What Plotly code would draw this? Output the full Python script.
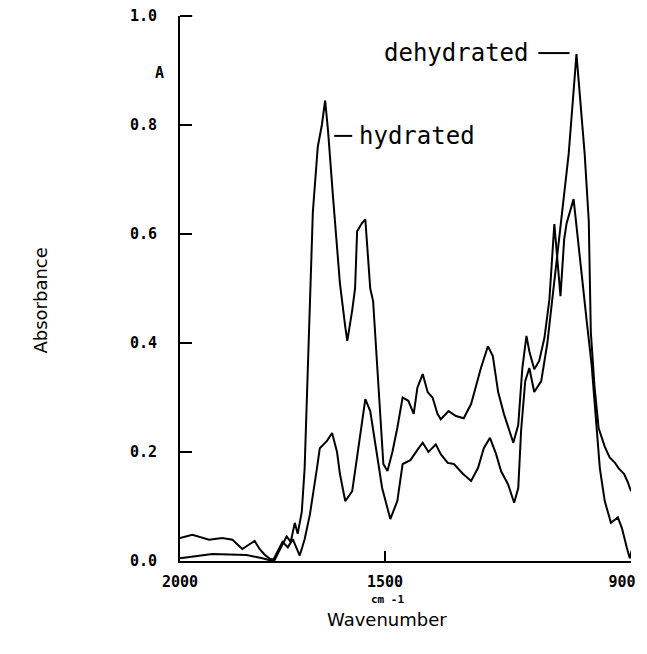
import plotly.graph_objects as go

# Hydrated spectrum (wavenumber cm-1, absorbance)
hyd_wn = [2000, 1970, 1929, 1897, 1872, 1848, 1836, 1818, 1806, 1794, 1781, 1769, 1757,
          1740, 1730, 1720, 1713, 1703, 1696, 1691, 1683, 1676, 1664, 1654, 1646, 1639,
          1627, 1610, 1597, 1592, 1580, 1573, 1568, 1556, 1548, 1536, 1529, 1519, 1504,
          1494, 1482, 1470, 1457, 1443, 1430, 1421, 1408, 1396, 1384, 1372, 1364, 1345,
          1327, 1308, 1290, 1266, 1249, 1237, 1224, 1210, 1187, 1175, 1165, 1155, 1148,
          1136, 1124, 1111, 1099, 1087, 1072, 1063, 1057, 1040, 1028, 1018, 1008, 996,
          986, 976, 964, 949, 932, 922, 910, 903, 898]
hyd_abs = [0.042, 0.048, 0.039, 0.042, 0.039, 0.022, 0.028, 0.037, 0.022, 0.012, 0.004, 0.002, 0.02,
           0.045, 0.035, 0.07, 0.05, 0.09, 0.17, 0.29, 0.45, 0.64, 0.76, 0.80, 0.845, 0.79,
           0.67, 0.51, 0.43, 0.404, 0.46, 0.50, 0.605, 0.62, 0.627, 0.50, 0.477, 0.354, 0.178,
           0.165, 0.20, 0.244, 0.30, 0.294, 0.27, 0.318, 0.343, 0.31, 0.30, 0.27, 0.26, 0.275,
           0.266, 0.262, 0.288, 0.354, 0.394, 0.376, 0.31, 0.27, 0.217, 0.25, 0.354, 0.413, 0.385,
           0.352, 0.367, 0.41, 0.48, 0.618, 0.486, 0.59, 0.62, 0.664, 0.58, 0.50, 0.44, 0.36,
           0.27, 0.17, 0.11, 0.07, 0.08, 0.06, 0.024, 0.005, 0.02]

# Dehydrated spectrum
deh_wn = [2000, 1953, 1921, 1880, 1838, 1799, 1774, 1750, 1737, 1725, 1708, 1696, 1683,
          1666, 1659, 1642, 1629, 1617, 1610, 1597, 1580, 1565, 1548, 1536, 1524, 1507,
          1487, 1470, 1457, 1438, 1418, 1408, 1394, 1376, 1364, 1347, 1332, 1310, 1290,
          1273, 1259, 1244, 1229, 1217, 1200, 1185, 1175, 1168, 1158, 1148, 1136, 1119,
          1104, 1089, 1070, 1052, 1033, 1013, 1003, 998, 989, 979, 964, 952, 939, 930,
          917, 908, 900]
deh_abs = [0.005, 0.009, 0.013, 0.012, 0.011, 0.005, 0.0, 0.035, 0.025, 0.04, 0.01, 0.04, 0.086,
           0.17, 0.207, 0.22, 0.235, 0.20, 0.16, 0.11, 0.128, 0.207, 0.297, 0.275, 0.22, 0.134,
           0.077, 0.11, 0.178, 0.185, 0.207, 0.217, 0.20, 0.214, 0.196, 0.18, 0.178, 0.16, 0.147,
           0.171, 0.207, 0.226, 0.196, 0.165, 0.141, 0.107, 0.134, 0.24, 0.33, 0.354, 0.31, 0.33,
           0.40, 0.50, 0.624, 0.747, 0.93, 0.747, 0.624, 0.42, 0.32, 0.244, 0.21, 0.19, 0.18, 0.17,
           0.16, 0.145, 0.128]

y_ticks = [0.0, 0.2, 0.4, 0.6, 0.8, 1.0]
y_tick_text = ["0.0", "0.2", "0.4", "0.6", "0.8", "1.0"]
x_ticks = [2000, 1500, 900]
x_tick_text = ["2000", "1500", "900\u00a0\u00a0"]

line_style = dict(color="black", width=2)
fig = go.Figure()
fig.add_trace(go.Scatter(x=hyd_wn, y=hyd_abs, mode="lines", line=line_style, name="hydrated"))
fig.add_trace(go.Scatter(x=deh_wn, y=deh_abs, mode="lines", line=line_style, name="dehydrated"))

tick_font = dict(family="DejaVu Sans Mono", size=15, color="black", weight="bold")
fig.update_layout(
    width=640, height=647,
    margin=dict(l=172, r=17, t=8, b=94),
    paper_bgcolor="white", plot_bgcolor="white",
    showlegend=False,
    xaxis=dict(range=[2000, 900], showgrid=False, zeroline=False, showline=True,
               automargin=False, ticklabeloverflow="allow",
               linecolor="black", linewidth=2, ticks="inside", ticklen=10, tickwidth=2,
               tickcolor="black", tickvals=x_ticks, ticktext=x_tick_text,
               tickfont=tick_font, ticklabelstandoff=6),
    yaxis=dict(range=[0, 1], showgrid=False, zeroline=False, showline=True,
               automargin=False, ticklabeloverflow="allow",
               linecolor="black", linewidth=2, ticks="inside", ticklen=12, tickwidth=2,
               tickcolor="black", tickvals=y_ticks, ticktext=y_tick_text,
               tickfont=tick_font, ticklabelstandoff=18),
)

ann_font = dict(family="DejaVu Sans Mono", size=24, color="black")
fig.add_annotation(x=1143, y=0.932, xref="x", yref="y", text="dehydrated", showarrow=False,
                   xanchor="right", yanchor="middle", font=ann_font)
fig.add_annotation(x=1568, y=0.78, xref="x", yref="y", text="hydrated", showarrow=False,
                   xanchor="left", yanchor="middle", font=ann_font)
fig.add_shape(type="line", x0=1126, x1=1050, y0=0.932, y1=0.932, xref="x", yref="y",
              line=dict(color="black", width=2))
fig.add_shape(type="line", x0=1624, x1=1580, y0=0.78, y1=0.78, xref="x", yref="y",
              line=dict(color="black", width=2))
# top tick mark of the left axis frame
fig.add_shape(type="line", x0=0, x1=0.027, y0=1, y1=1, xref="paper", yref="paper",
              line=dict(color="black", width=2))

fig.add_annotation(x=-0.06, y=0.895, xref="paper", yref="y", text="A", showarrow=False,
                   font=dict(family="DejaVu Sans Mono", size=15, color="black", weight="bold"))
fig.add_annotation(x=-0.337, y=0.477, xref="paper", yref="paper", text="Absorbance",
                   showarrow=False, textangle=-90,
                   font=dict(family="DejaVu Sans", size=18, color="black"))
fig.add_annotation(x=0.46, y=-0.086, xref="paper", yref="paper", text="cm -1",
                   showarrow=False,
                   font=dict(family="DejaVu Sans Mono", size=11, color="black", weight="bold"))
fig.add_annotation(x=0.46, y=-0.13, xref="paper", yref="paper", text="Wavenumber",
                   showarrow=False,
                   font=dict(family="DejaVu Sans", size=18, color="black"))

fig.write_html("out.html")
